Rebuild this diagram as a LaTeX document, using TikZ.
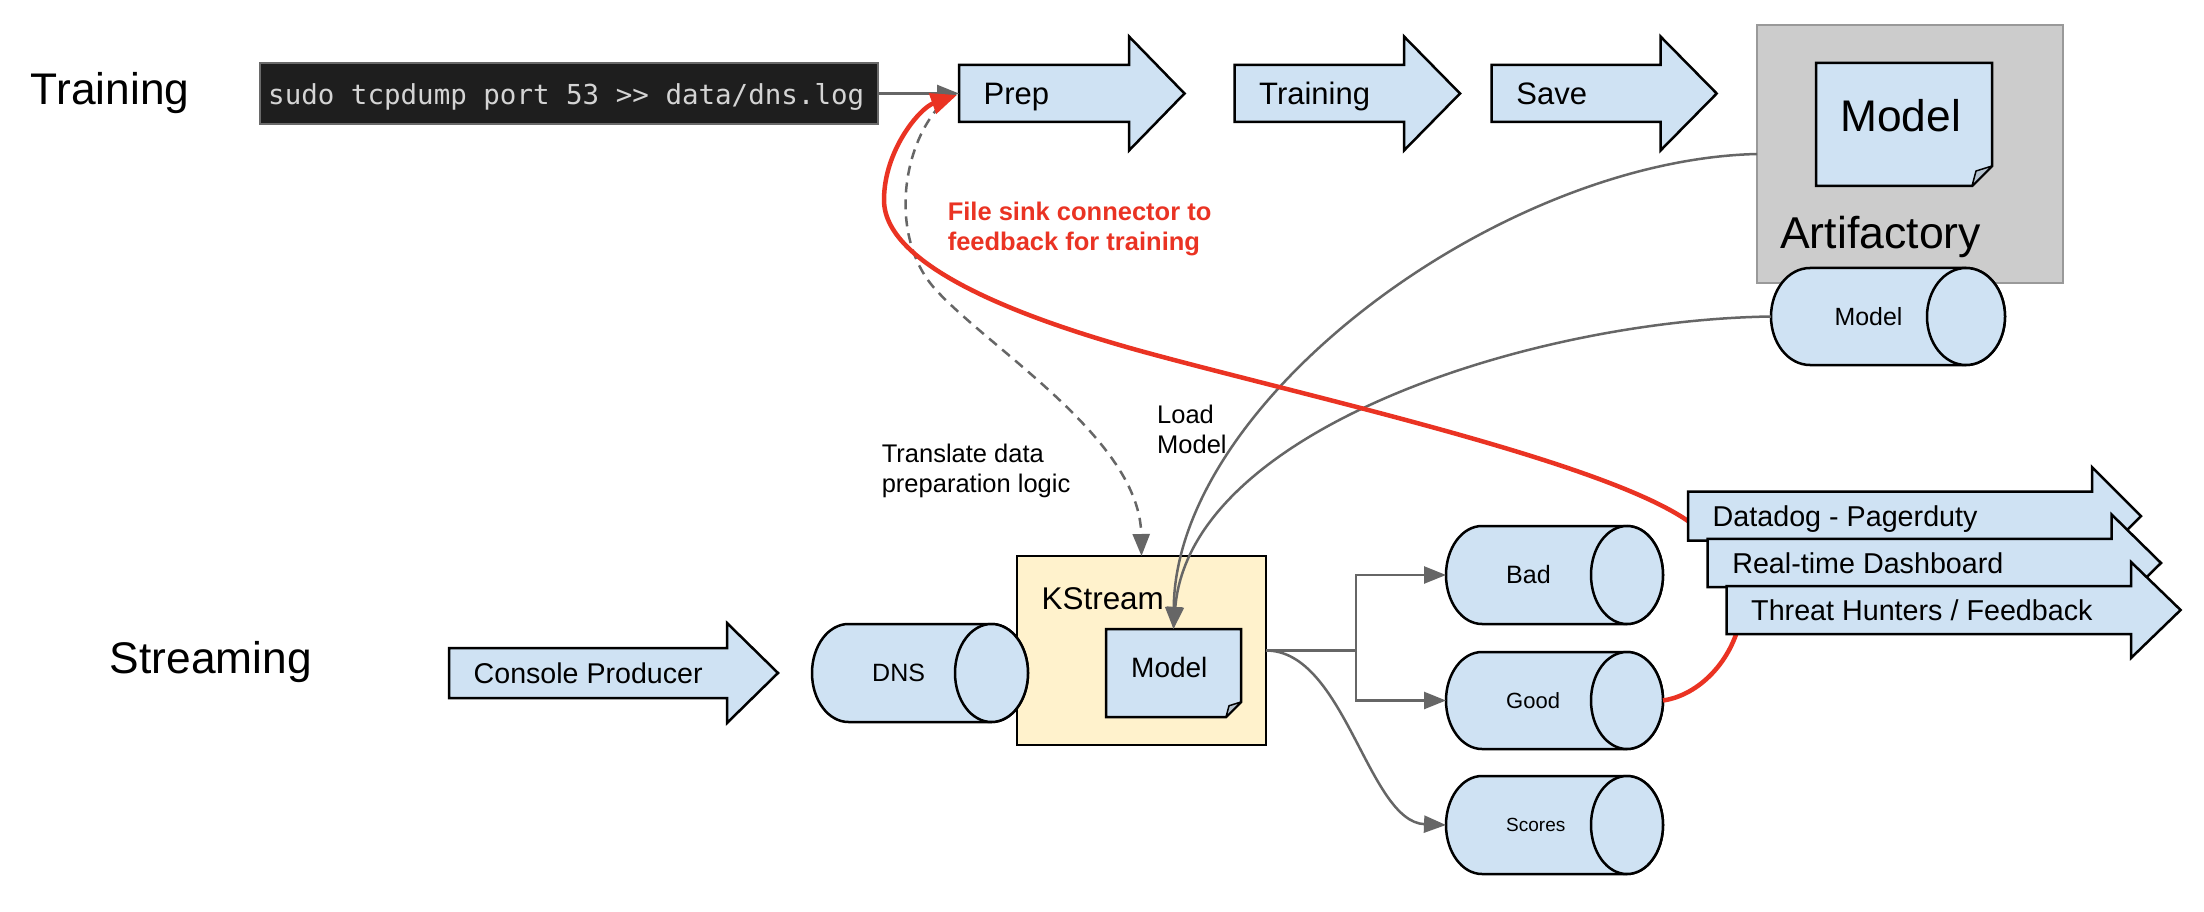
\documentclass[tikz,border=0pt]{standalone}
\usepackage{fontspec}
\setmainfont{Liberation Sans}
\newfontfamily\termfont{DejaVu Sans Mono}
\usetikzlibrary{arrows.meta}
\definecolor{boxblue}{HTML}{CFE2F3}
\definecolor{ksyellow}{HTML}{FFF2CC}
\definecolor{artgray}{HTML}{CCCCCC}
\definecolor{artedge}{HTML}{999999}
\definecolor{conngray}{HTML}{666666}
\definecolor{fbred}{HTML}{EA3323}
\definecolor{termbg}{HTML}{1E1E1E}
\definecolor{termedge}{HTML}{6A6A6A}
\definecolor{termtext}{HTML}{D4D4D4}
\definecolor{foldc}{HTML}{B4C2CF}
\tikzset{
  shapeline/.style={draw=black, line width=2.5pt, fill=boxblue, line join=miter},
  conn/.style={draw=conngray, line width=2.5pt},
  connarrow/.style={conn, -{Triangle[length=22pt,width=17pt]}},
  dashconn/.style={conn, dash pattern=on 10pt off 7pt, -{Triangle[length=22pt,width=17pt]}},
  redconn/.style={draw=fbred, line width=4.5pt, -{Triangle[length=26pt,width=21pt]}},
  lbl/.style={inner sep=0pt, anchor=base west},
  slot/.style={inner sep=0pt, outer sep=0pt},
  para/.style={inner sep=0pt, anchor=north west, align=left},
}
% block arrow: name, x0, yc, head base x, tip x, body half height, font size, text
\newcommand{\mkarrow}[8]{%
  \path[shapeline] (#2,{#3-#6}) -- (#4,{#3-#6}) -- (#4,{#3-2*#6}) -- (#5,#3) -- (#4,{#3+2*#6}) -- (#4,{#3+#6}) -- (#2,{#3+#6}) -- cycle;
  \node[slot, anchor=west, minimum width={#4-#2}, minimum height={2*#6}] (#1) at (#2,#3) {};
  \node[lbl, font=\fontsize{#7}{#7}\selectfont] (#1-t) at ({#2+24.5},{#3+0.358*#7}) {#8};
}
% cylinder: name, x0, y0, x1, y1, rx, text x, font size, text
\newcommand{\mkcyl}[9]{%
  \path[shapeline] ({#2+#6},#3) arc[start angle=90, end angle=270, x radius=#6pt, y radius={(#5-#3)/2*1pt}]
     -- ({#4-#6},#5) arc[start angle=270, end angle=450, x radius=#6pt, y radius={(#5-#3)/2*1pt}] -- cycle;
  \path[shapeline] ({#4-#6},{(#3+#5)/2}) ellipse[x radius=#6pt, y radius={(#5-#3)/2*1pt}];
  \node[slot, minimum width={#4-#2}, minimum height={#5-#3}] (#1) at ({(#2+#4)/2},{(#3+#5)/2}) {};
  \node[lbl, font=\fontsize{#8}{#8}\selectfont] (#1-t) at (#7,{(#3+#5)/2+0.358*#8}) {#9};
}
% folded note: name, x0, y0, x1, y1, fold
\newcommand{\mkdoc}[6]{%
  \path[shapeline] (#2,#3) -- (#4,#3) -- (#4,{#5-#6}) -- ({#4-#6},#5) -- (#2,#5) -- cycle;
  \path[draw=black, line width=1.5pt, fill=foldc, line join=round] (#4,{#5-#6}) -- ({#4-0.8*#6},{#5-0.75*#6}) -- ({#4-#6},#5) -- cycle;
  \node[slot, minimum width={#4-#2}, minimum height={#5-#3}] (#1) at ({(#2+#4)/2},{(#3+#5)/2}) {};
}
\begin{document}
\begin{tikzpicture}[x=1pt, y=-1pt]
\fill[white] (0,0) rectangle (2204,912);
\useasboundingbox (0,0) rectangle (2204,912);

% section labels
\node[lbl, font=\fontsize{44.3}{44.3}\selectfont] (trainlbl) at (30.7,104.3) {Training};
\node[lbl, font=\fontsize{44.3}{44.3}\selectfont] (streamlbl) at (109.7,673) {Streaming};

% terminal
\node[slot, anchor=north west, fill=termbg, draw=termedge, line width=1.2pt, minimum width=618, minimum height=61] (term) at (260,63) {};
\node[lbl, text=termtext, font=\termfont\fontsize{27.5}{27.5}\selectfont] (termtxt) at (268,105) {sudo tcpdump port 53 >{}> data/dns.log};

% training pipeline
\mkarrow{prep}{959}{93.5}{1129}{1184.5}{28.5}{31}{Prep}
\mkarrow{train}{1234.5}{93.5}{1404}{1460}{28.5}{31}{Training}
\mkarrow{save}{1491.7}{93.5}{1660.5}{1716.7}{28.5}{31}{Save}
\draw[connarrow] (term.east) -- (prep.west);

% artifactory
\node[slot, anchor=north west, fill=artgray, draw=artedge, line width=2.5pt, minimum width=306, minimum height=258] (art) at (1757,25) {};
\mkdoc{amodel}{1816}{63}{1992}{186}{20}
\node[lbl, font=\fontsize{44.3}{44.3}\selectfont] (amodel-t) at (1840,131.7) {Model};
\node[lbl, font=\fontsize{44.6}{44.6}\selectfont] (art-t) at (1780,248.3) {Artifactory};
\mkcyl{mcyl}{1771}{268}{2005}{365}{39}{1834.4}{24.9}{Model}

% streaming
\mkarrow{prod}{449}{673}{727}{778}{25}{28.6}{Console Producer}
\node[slot, anchor=north west, fill=ksyellow, draw=black, line width=2.5pt, minimum width=249, minimum height=189] (ks) at (1017,556) {};
\node[lbl, font=\fontsize{31.4}{31.4}\selectfont] (ks-t) at (1041.5,609.5) {KStream};
\mkcyl{dns}{812}{624}{1028}{722}{36.5}{872}{25}{DNS}
\mkdoc{kmodel}{1106}{629}{1241}{717}{15}
\node[lbl, font=\fontsize{28}{28}\selectfont] (kmodel-t) at (1131,677) {Model};

\mkcyl{bad}{1446}{526}{1663}{624}{36}{1506}{25.1}{Bad}
\mkcyl{good}{1446}{652}{1663}{749}{36}{1506}{22}{Good}
\mkcyl{scores}{1446}{776}{1663}{874}{36}{1506}{19}{Scores}

% outputs of the stream
\path (ks.east) ++(90,0) coordinate (split);
\draw[conn] (ks.east) -- (split);
\draw[connarrow] (split) |- (bad.west);
\draw[connarrow] (split) |- (good.west);
\draw[connarrow] (ks.east) .. controls (1345,650.5) and (1368,822) .. (scores.west);

% model loading
\draw[connarrow] (art.west) .. controls (1500,160) and (1176,400) .. (kmodel.north);
\draw[connarrow] (mcyl.west) .. controls (1530,320) and (1190,430) .. (kmodel.north);

% data prep translation
\path (prep.west) ++(-19,12) coordinate (dstart);
\draw[dashconn] (dstart) .. controls (900,150) and (890,240) .. (936,290) .. controls (991,350) and (1140,440) .. (ks.north);

% texts
\node[para, font=\fontsize{25.5}{30}\selectfont] (transl) at (881.6,443.4) {Translate data\\preparation logic};
\node[para, font=\fontsize{25.5}{30.5}\selectfont] (loadl) at (1157,404.7) {Load\\Model};
\node[para, text=fbred, font=\bfseries\fontsize{25.5}{30}\selectfont] (sinkl) at (947.6,201.7) {File sink connector to\\feedback for training};

% feedback connector
\path (prep.west) ++(-2,1.5) coordinate (rend);
\draw[redconn] (good.east) .. controls (1700,695) and (1732,660) .. (1740,620)
  .. controls (1746,592) and (1722,543) .. (1688,521)
  .. controls (1600,460) and (1300,395) .. (1137,350)
  .. controls (1037,322) and (884,270) .. (884,200)
  .. controls (884,150) and (920,108) .. (rend);

% alerting outputs
\mkarrow{dd}{1688}{516.2}{2092}{2141}{24.5}{28.7}{Datadog - Pagerduty}
\mkarrow{rt}{1707.6}{563}{2111.7}{2161}{24.2}{28.7}{Real-time Dashboard}
\mkarrow{th}{1726.5}{610}{2131}{2180.6}{24}{28.7}{Threat Hunters / Feedback}
\end{tikzpicture}
\end{document}
